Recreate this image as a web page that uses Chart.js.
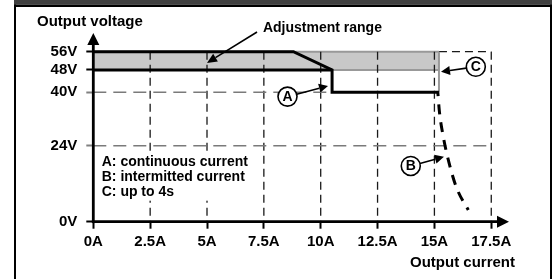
<!DOCTYPE html>
<html><head><meta charset="utf-8">
<script src="https://cdn.jsdelivr.net/npm/chart.js@4/dist/chart.umd.min.js"></script>
<style>html,body{margin:0;padding:0;background:#fff;overflow:hidden}#wrap{width:554px;height:279px;position:relative}</style>
</head><body><div id="wrap"><canvas id="c" width="554" height="279"></canvas></div>
<script>
// ---------- data ----------
const xTicks = [0, 2.5, 5, 7.5, 10, 12.5, 15, 17.5];          // A
const yTicks = [0, 24, 40, 48, 56];                           // V
const adjCurrent = [0, 15.2];                                 // adjustment range band
const adjHigh = [56, 56];
const adjLow = [48, 48];
const contCurrent = [0, 8.8, 10.5, 10.5, 15.2];               // A: continuous current
const contVoltage = [56, 56, 48, 40, 40];
const setCurrent = [0, 10.5];                                 // 48V setting
const setVoltage = [48, 48];
const peakCurrent = [15.2, 15.2];                             // C: up to 4s
const peakVoltage = [56, 40];
const intCurrent = [15.15, 15.22, 15.39, 15.65, 15.98, 16.49]; // B: intermitted current
const intVoltage = [40, 34.2, 26.7, 18.4, 10.6, 3.7];
const gridCurrents = [2.5, 5, 7.5, 10, 12.5, 15, 17.5];
const legendLines = ['A: continuous current', 'B: intermitted current', 'C: up to 4s'];
const axisTitleY = 'Output voltage';
const axisTitleX = 'Output current';
const adjText = 'Adjustment range';

// ---------- piecewise (drawn) voltage axis ----------
const vBreaks = [0, 24, 40, 48, 56];
const uBreaks = [0, 25.17, 42.85, 50.23, 56.29];
function toU(v) {
  const n = vBreaks.length;
  if (v <= vBreaks[0]) return uBreaks[0] + (v - vBreaks[0]) * (uBreaks[1] - uBreaks[0]) / (vBreaks[1] - vBreaks[0]);
  for (let i = 1; i < n; i++) {
    if (v <= vBreaks[i]) return uBreaks[i-1] + (v - vBreaks[i-1]) * (uBreaks[i] - uBreaks[i-1]) / (vBreaks[i] - vBreaks[i-1]);
  }
  return uBreaks[n-1] + (v - vBreaks[n-1]) * (uBreaks[n-1] - uBreaks[n-2]) / (vBreaks[n-1] - vBreaks[n-2]);
}
class PiecewiseScale extends Chart.LinearScale {
  getPixelForValue(v) { return super.getPixelForValue(toU(v)); }
}
PiecewiseScale.id = 'piecewise';
PiecewiseScale.defaults = Chart.LinearScale.defaults;
Chart.register(PiecewiseScale);

const pts = (xs, ys) => xs.map((x, i) => ({x, y: ys[i]}));
const FONT = "'Liberation Sans', Arial, sans-serif";

// annotation placement in data coordinates (current A, voltage V)
const notes = {
  adj: {x: 7.46, y: 66.3, arrowFrom: [7.2, 64.6], arrowTo: [5.0, 51.1]},
  circles: [
    {letter: 'A', x: 8.54, y: 38.7, to: [10.32, 42.3]},
    {letter: 'B', x: 13.96, y: 17.6, to: [15.42, 20.5]},
    {letter: 'C', x: 16.82, y: 49.4, to: [15.29, 47.4]}
  ],
  legend: {x: 0.37, y: 18.95}
};

function arrow(ctx, x0, y0, x1, y1, head, w) {
  const a = Math.atan2(y1 - y0, x1 - x0);
  const bx = x1 - head * Math.cos(a), by = y1 - head * Math.sin(a);
  ctx.beginPath(); ctx.moveTo(x0, y0); ctx.lineTo(bx, by); ctx.stroke();
  ctx.beginPath();
  ctx.moveTo(x1, y1);
  ctx.lineTo(bx + w * Math.sin(a), by - w * Math.cos(a));
  ctx.lineTo(bx - w * Math.sin(a), by + w * Math.cos(a));
  ctx.closePath(); ctx.fill();
}

const framePlugin = {
  id: 'frame',
  beforeDraw(chart) {
    const ctx = chart.ctx;
    ctx.save();
    ctx.fillStyle = '#fff'; ctx.fillRect(0, 0, chart.width, chart.height);
    ctx.restore();
  },
  afterDraw(chart) {
    const ctx = chart.ctx;
    ctx.save();
    ctx.fillStyle = '#404040'; ctx.fillRect(14, 0, 538, 4.5);
    ctx.fillStyle = '#000';
    ctx.fillRect(14, 4.5, 538, 2.5);
    ctx.fillRect(14, 4.5, 2, 280);
    ctx.fillRect(550, 4.5, 2, 280);
    ctx.restore();
  }
};

const gridPlugin = {
  id: 'dashgrid',
  afterDatasetDraw(chart, args) {
    if (args.index !== 4) return;
    const {ctx, scales: {x, y}} = chart;
    ctx.save();
    ctx.lineWidth = 1.3; ctx.strokeStyle = '#1a1a1a'; ctx.setLineDash([8, 5]);
    for (const c of gridCurrents) {
      const px = x.getPixelForValue(c);
      ctx.beginPath(); ctx.moveTo(px, y.getPixelForValue(56)); ctx.lineTo(px, y.getPixelForValue(0)); ctx.stroke();
    }
    ctx.beginPath();
    ctx.moveTo(x.getPixelForValue(adjCurrent[1]), y.getPixelForValue(56));
    ctx.lineTo(x.getPixelForValue(17.5), y.getPixelForValue(56)); ctx.stroke();
    ctx.strokeStyle = '#7a7a7a'; ctx.setLineDash([13, 7]); ctx.lineWidth = 1.5;
    const x0 = x.getPixelForValue(0);
    ctx.beginPath(); ctx.moveTo(x0, y.getPixelForValue(24)); ctx.lineTo(x.getPixelForValue(17.5), y.getPixelForValue(24)); ctx.stroke();
    ctx.beginPath(); ctx.moveTo(x0, y.getPixelForValue(40)); ctx.lineTo(x.getPixelForValue(contCurrent[2]), y.getPixelForValue(40)); ctx.stroke();
    // legend text (white box over grid)
    ctx.setLineDash([]);
    ctx.font = 'bold 14px ' + FONT; ctx.textAlign = 'left'; ctx.textBaseline = 'middle';
    const lx = x.getPixelForValue(notes.legend.x), ly = y.getPixelForValue(notes.legend.y);
    const w = Math.max(...legendLines.map(t => ctx.measureText(t).width));
    ctx.fillStyle = '#fff';
    ctx.fillRect(lx - 3, ly - 9, w + 6, (legendLines.length - 1) * 15 + 18);
    ctx.fillStyle = '#000';
    legendLines.forEach((t, i) => ctx.fillText(t, lx, ly + i * 15));
    ctx.restore();
  }
};

const axesPlugin = {
  id: 'axesArrows',
  afterDatasetsDraw(chart) {
    const {ctx, scales: {x, y}, chartArea} = chart;
    const ox = x.getPixelForValue(0), oy = y.getPixelForValue(0);
    ctx.save();
    ctx.strokeStyle = '#000'; ctx.fillStyle = '#000'; ctx.lineWidth = 2.8;
    arrow(ctx, ox, oy + 1.4, ox, chartArea.top, 12, 6);
    arrow(ctx, ox - 1.4, oy, chartArea.right, oy, 12, 6);
    // axis titles
    ctx.font = 'bold 15px ' + FONT; ctx.textBaseline = 'middle';
    ctx.textAlign = 'left'; ctx.fillText(axisTitleY, 37, 22);
    ctx.textAlign = 'right'; ctx.fillText(axisTitleX, 515, 263);
    // adjustment range note
    const a = notes.adj;
    ctx.font = 'bold 14px ' + FONT; ctx.textAlign = 'left';
    ctx.fillText(adjText, x.getPixelForValue(a.x), y.getPixelForValue(a.y));
    ctx.lineWidth = 1.6;
    arrow(ctx, x.getPixelForValue(a.arrowFrom[0]), y.getPixelForValue(a.arrowFrom[1]),
               x.getPixelForValue(a.arrowTo[0]), y.getPixelForValue(a.arrowTo[1]), 10, 4.5);
    // circled letters
    for (const c of notes.circles) {
      const cx = x.getPixelForValue(c.x), cy = y.getPixelForValue(c.y);
      const tx = x.getPixelForValue(c.to[0]), ty = y.getPixelForValue(c.to[1]);
      const ang = Math.atan2(ty - cy, tx - cx), r = 9.5;
      ctx.lineWidth = 1.6;
      arrow(ctx, cx + r * Math.cos(ang), cy + r * Math.sin(ang), tx, ty, 9, 4.5);
      ctx.beginPath(); ctx.arc(cx, cy, r, 0, Math.PI * 2);
      ctx.fillStyle = '#fff'; ctx.fill(); ctx.lineWidth = 1.6; ctx.stroke();
      ctx.fillStyle = '#000'; ctx.font = 'bold 14px ' + FONT; ctx.textAlign = 'center';
      ctx.fillText(c.letter, cx, cy + 0.5);
    }
    ctx.restore();
  }
};

new Chart(document.getElementById('c'), {
  type: 'line',
  data: {
    datasets: [
      {data: pts(contCurrent, contVoltage), borderColor: '#000', borderWidth: 3, fill: false},
      {data: pts(setCurrent, setVoltage), borderColor: '#000', borderWidth: 3, fill: false},
      {data: pts(intCurrent, intVoltage), borderColor: '#000', borderWidth: 3, borderDash: [10, 8], borderDashOffset: 6, tension: 0.35, cubicInterpolationMode: 'monotone', fill: false},
      {data: pts(peakCurrent, peakVoltage), borderColor: '#999', borderWidth: 2, fill: false},
      {data: pts(adjCurrent, adjLow), borderColor: '#999', borderWidth: 2, fill: false},
      {data: pts(adjCurrent, adjHigh), borderColor: '#999', borderWidth: 2, fill: '-1', backgroundColor: '#c8c8c8'}
    ]
  },
  options: {
    responsive: false, animation: false, events: [],
    layout: {padding: {left: 0, right: 45, top: 33, bottom: 0}},
    elements: {point: {radius: 0}, line: {tension: 0, borderCapStyle: 'butt', borderJoinStyle: 'miter'}},
    plugins: {legend: {display: false}, tooltip: {enabled: false}, title: {display: false}},
    scales: {
      x: {
        type: 'linear', min: 0, max: 18.28,
        afterBuildTicks: s => { s.ticks = xTicks.map(v => ({value: v})); },
        afterFit: s => { s.height = 57.3; },
        ticks: {autoSkip: false, maxRotation: 0, padding: 4, color: '#000', font: {family: FONT, size: 15, weight: 'bold'}, callback: v => v + 'A'},
        grid: {drawOnChartArea: false, drawTicks: true, tickLength: 7, tickWidth: 2, tickColor: '#000'},
        border: {display: false}
      },
      y: {
        type: 'piecewise', min: 0, max: 62.48,
        afterBuildTicks: s => { s.ticks = yTicks.map(v => ({value: v})); },
        afterFit: s => { s.width = 93.3; },
        ticks: {autoSkip: false, padding: 9, color: '#000', font: {family: FONT, size: 15, weight: 'bold'}, callback: v => v + 'V'},
        grid: {drawOnChartArea: false, drawTicks: true, tickLength: 7, tickWidth: 2,
               tickColor: c => (c.tick && (c.tick.value === 24 || c.tick.value === 40)) ? '#808080' : '#000'},
        border: {display: false}
      }
    }
  },
  plugins: [framePlugin, gridPlugin, axesPlugin]
});
</script></body></html>
